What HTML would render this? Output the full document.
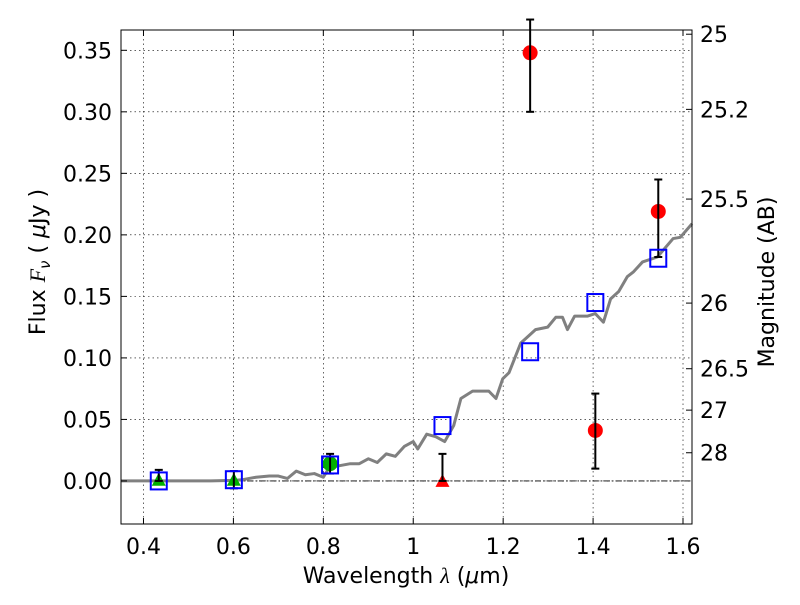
<!DOCTYPE html>
<html><head><meta charset="utf-8"><style>
body{margin:0;background:#fff}
svg{font-family:"DejaVu Sans","Liberation Sans",sans-serif}
</style></head><body>
<svg id="chart" width="800" height="600" xmlns="http://www.w3.org/2000/svg"></svg>
<script>
const xTicks=[0.4,0.6,0.8,1.0,1.2,1.4,1.6];
const xTickLabels=["0.4","0.6","0.8","1","1.2","1.4","1.6"];
const yTicks=[0,0.05,0.1,0.15,0.2,0.25,0.3,0.35];
const yTickLabels=["0.00","0.05","0.10","0.15","0.20","0.25","0.30","0.35"];
const magTicks=[25,25.2,25.5,26,26.5,27,28];
const magTickLabels=["25","25.2","25.5","26","26.5","27","28"];
const modelWave=[0.35,0.45,0.55,0.6,0.62,0.65,0.68,0.7,0.72,0.74,0.76,0.78,0.8,0.81,0.83,0.86,0.88,0.9,0.92,0.94,0.96,0.98,1.0,1.01,1.03,1.05,1.07,1.09,1.106,1.132,1.168,1.184,1.199,1.213,1.239,1.254,1.272,1.299,1.317,1.332,1.343,1.359,1.388,1.405,1.423,1.439,1.457,1.476,1.49,1.51,1.543,1.578,1.594,1.62];
const modelFlux=[0,0,0,0.0005,0.001,0.003,0.004,0.004,0.002,0.008,0.005,0.006,0.003,0.009,0.012,0.014,0.014,0.018,0.015,0.022,0.02,0.028,0.032,0.026,0.038,0.036,0.032,0.045,0.067,0.073,0.073,0.067,0.083,0.088,0.112,0.117,0.123,0.125,0.133,0.133,0.123,0.134,0.134,0.136,0.129,0.148,0.154,0.166,0.17,0.178,0.182,0.197,0.198,0.209];
const sqWave=[0.434,0.601,0.815,1.065,1.26,1.405,1.545];
const sqFlux=[0.0,0.001,0.013,0.045,0.105,0.145,0.181];
const greenWave=[0.434,0.601,0.815];
const greenFlux=[0.001,0.001,0.014];
const greenLo=[0.0,-0.006,0.006];
const greenHi=[0.009,0.008,0.022];
const greenShape=["tri","tri","circ"];
const redWave=[1.065,1.26,1.405,1.545];
const redFlux=[0.0,0.348,0.041,0.219];
const redLo=[0.0,0.30,0.01,0.182];
const redHi=[0.022,0.375,0.071,0.245];
const redShape=["tri","circ","circ","circ"];

const L=121,R=692,T=30,B=524,X0=0.35,X1=1.62,Y0=-0.035,Y1=0.3665;
const sx=v=>L+(v-X0)/(X1-X0)*(R-L);
const sy=v=>B-(v-Y0)/(Y1-Y0)*(B-T);
const svg=document.getElementById('chart');
const NS='http://www.w3.org/2000/svg';
function mk(tag,attrs,parent){const e=document.createElementNS(NS,tag);for(const k in attrs)e.setAttribute(k,attrs[k]);(parent||svg).appendChild(e);return e;}
function txt(s,x,y,anchor,size,parent){const t=mk('text',{x:x,y:y,'text-anchor':anchor,'font-size':size||22,fill:'#000'},parent);t.textContent=s;return t;}

const grid=mk('g',{});


xTicks.forEach(v=>mk('line',{x1:sx(v),x2:sx(v),y1:T,y2:B,stroke:'#000','stroke-width':0.6,'stroke-dasharray':'1.5,3'},grid));
yTicks.forEach(v=>mk('line',{x1:L,x2:R,y1:sy(v),y2:sy(v),stroke:'#000','stroke-width':0.6,'stroke-dasharray':'1.5,3'},grid));
const zl=mk('line',{x1:L,x2:R,y1:sy(0),y2:sy(0),stroke:'#000','stroke-width':0.8,'stroke-dasharray':'6,2,1.5,2'});



const model=mk('polyline',{points:modelWave.map((w,i)=>sx(w)+','+sy(modelFlux[i])).join(' '),fill:'none',stroke:'#808080','stroke-width':3,'stroke-linejoin':'round'});



function errbar(x,lo,hi,name){
  const g=mk('g',{stroke:'#000','stroke-width':2});
  
  
  mk('line',{x1:sx(x),x2:sx(x),y1:sy(lo),y2:sy(hi)},g);
  mk('line',{x1:sx(x)-4,x2:sx(x)+4,y1:sy(lo),y2:sy(lo)},g);
  mk('line',{x1:sx(x)-4,x2:sx(x)+4,y1:sy(hi),y2:sy(hi)},g);
}
function marker(shape,x,y,color,name){
  let e;
  if(shape==='tri'){const cx=sx(x),cy=sy(y);e=mk('polygon',{points:`${cx},${cy-7} ${cx-7},${cy+6} ${cx+7},${cy+6}`,fill:color});}
  else e=mk('circle',{cx:sx(x),cy:sy(y),r:7.5,fill:color});
  
  
}
greenWave.forEach((w,i)=>{marker(greenShape[i],w,greenFlux[i],'#00b000','green-point-'+i);});
redWave.forEach((w,i)=>{marker(redShape[i],w,redFlux[i],'#ff0000','red-point-'+i);});
greenWave.forEach((w,i)=>errbar(w,greenLo[i],greenHi[i],'green-errorbar-'+i));
redWave.forEach((w,i)=>errbar(w,redLo[i],redHi[i],'red-errorbar-'+i));
sqWave.forEach((w,i)=>{
  const r=mk('rect',{x:sx(w)-8,y:sy(sqFlux[i])-8.5,width:16,height:17,fill:'none',stroke:'#0000ff','stroke-width':2});
  
  
});

const frame=mk('rect',{x:L,y:T,width:R-L,height:B-T,fill:'none',stroke:'#000','stroke-width':1});



const xa=mk('g',{});


xTicks.forEach((v,i)=>{mk('line',{x1:sx(v),x2:sx(v),y1:B,y2:B-6,stroke:'#000'},xa);mk('line',{x1:sx(v),x2:sx(v),y1:T,y2:T+6,stroke:'#000'},xa);txt(xTickLabels[i],sx(v),554,'middle',22,xa);});
const ya=mk('g',{});


yTicks.forEach((v,i)=>{mk('line',{x1:L,x2:L+6,y1:sy(v),y2:sy(v),stroke:'#000'},ya);txt(yTickLabels[i],112,sy(v)+8,'end',22,ya);});
const ma=mk('g',{});


magTicks.forEach((m,i)=>{const f=Math.pow(10,-0.4*(m-23.9));const y=sy(f);mk('line',{x1:R,x2:R-6,y1:y,y2:y,stroke:'#000'},ma);txt(magTickLabels[i],700,y+8,'start',22,ma);});

const xl=txt('',406,583,'middle',22);
xl.innerHTML='Wavelength  <tspan font-family="Liberation Serif,serif" font-style="italic">λ</tspan> (<tspan font-style="italic">μ</tspan>m)';
xl.setAttribute('xml:space','preserve');


const yl=txt('',0,0,'middle',22);
yl.setAttribute('transform','translate(45,262) rotate(-90)');
yl.setAttribute('xml:space','preserve');
yl.innerHTML='Flux  <tspan font-style="italic" font-family="Liberation Serif,serif">F</tspan><tspan font-size="15" dy="5" font-style="italic">ν</tspan><tspan dy="-5">  (  </tspan><tspan font-style="italic">μ</tspan>Jy )';


const rl=txt('Magnitude (AB)',0,0,'middle',22);
rl.setAttribute('transform','translate(774,282) rotate(-90)');


</script>
</body></html>
